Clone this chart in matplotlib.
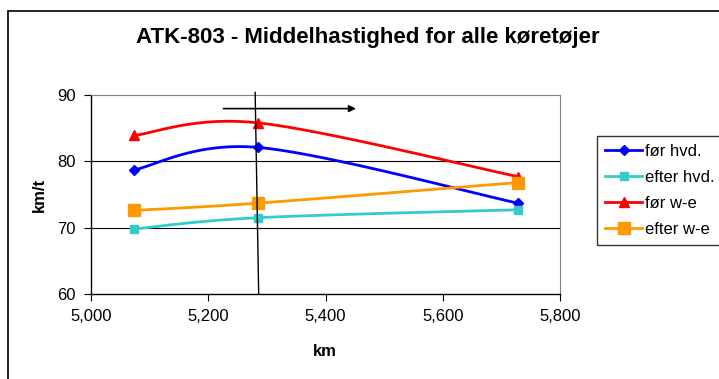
import numpy as np
import matplotlib
matplotlib.use('Agg')
import matplotlib.pyplot as plt
from matplotlib.patches import Rectangle

plt.rcParams['font.family'] = ['Liberation Sans', 'DejaVu Sans']

# data
km = [5073, 5285, 5728]
series = {
    "før hvd.": [78.7, 82.1, 73.7],
    "efter hvd.": [69.8, 71.5, 72.7],
    "før w-e": [83.9, 85.8, 77.7],
    "efter w-e": [72.6, 73.7, 76.8],
}
colors = ["#0000FF", "#33CCCC", "#FF0000", "#FF9900"]
markers = ["D", "s", "^", "s"]
msizes = [5.5, 5.5, 7, 8]
xticks = [5000, 5200, 5400, 5600, 5800]
yticks = [60, 70, 80, 90]

# annotations drawn on the chart
vline_x = [5280, 5286]
vline_y = [90.4, 60.1]
arrow_x = [5226, 5452]
arrow_y = 87.95


def smooth(xs, ys, sx, sy, n=40):
    # Excel-like smoothed line: Catmull-Rom bezier in screen units
    P = np.column_stack([np.array(xs) * sx, np.array(ys) * sy])
    P = np.vstack([P[0], P, P[-1]])
    out = []
    for i in range(1, len(P) - 2):
        p0, p1, p2, p3 = P[i - 1], P[i], P[i + 1], P[i + 2]
        c1 = p1 + (p2 - p0) / 6
        c2 = p2 - (p3 - p1) / 6
        t = np.linspace(0, 1, n)[:, None]
        seg = (1 - t) ** 3 * p1 + 3 * (1 - t) ** 2 * t * c1 + 3 * (1 - t) * t ** 2 * c2 + t ** 3 * p2
        out.append(seg if i == 1 else seg[1:])
    out = np.vstack(out)
    return out[:, 0] / sx, out[:, 1] / sy


fig = plt.figure(figsize=(7.19, 3.79), dpi=100)
ax = fig.add_axes([91 / 719, 85 / 379, 469 / 719, 199 / 379])
ax.set_xlim(5000, 5800)
ax.set_ylim(60, 90)

sx = 469 / 800
sy = 199 / 30
handles = []
for (name, vals), c, m, ms in zip(series.items(), colors, markers, msizes):
    xs, ys = smooth(km, vals, sx, sy)
    ax.plot(xs, ys, color=c, lw=2, solid_capstyle='round', zorder=3)
    ax.plot(km, vals, ls='none', marker=m, ms=ms, color=c, zorder=4, clip_on=False)
    h, = ax.plot([], [], color=c, lw=2, marker=m, ms=ms, label=name)
    handles.append(h)

for y in [70, 80]:
    ax.axhline(y, color='black', lw=0.8, zorder=1)

ax.set_xticks(xticks)
ax.set_xticklabels([f"{v:,}" for v in xticks])
ax.set_yticks(yticks)
ax.tick_params(labelsize=12, length=5, width=0.8, direction='out', pad=6)
for s in ['top', 'right']:
    ax.spines[s].set_color('#808080')
for s in ['left', 'bottom']:
    ax.spines[s].set_color('black')
    ax.spines[s].set_linewidth(1)

ax.plot(vline_x, vline_y, color='black', lw=1, clip_on=False, zorder=5)
ax.annotate('', xy=(arrow_x[1], arrow_y), xytext=(arrow_x[0], arrow_y),
            arrowprops=dict(arrowstyle='-|>', color='black', lw=1.2,
                            mutation_scale=10, shrinkA=0, shrinkB=0))

fig.text(368 / 719, 1 - 38 / 379, "ATK-803 - Middelhastighed for alle køretøjer",
         ha='center', va='center', fontsize=16, fontweight='bold')
fig.text(325 / 719, 1 - 352 / 379, "km", ha='center', va='center',
         fontsize=12, fontweight='bold')
fig.text(39 / 719, 1 - 195 / 379, "km/t", ha='center', va='center',
         rotation=90, fontsize=12, fontweight='bold')

leg = fig.legend(handles=handles, loc='upper left',
                 bbox_to_anchor=(597 / 719, 1 - 136 / 379), borderaxespad=0,
                 fontsize=12, frameon=True, fancybox=False, handlelength=2.2,
                 handletextpad=0.2, labelspacing=0.65, borderpad=0.5)
leg.get_frame().set_edgecolor('black')
leg.get_frame().set_linewidth(1)

fig.add_artist(Rectangle((8 / 719, -0.1), 1.2, 1.1 - 11 / 379, fill=False,
                         lw=1.2, edgecolor='black', transform=fig.transFigure))

fig.savefig("out.png", dpi=100)
